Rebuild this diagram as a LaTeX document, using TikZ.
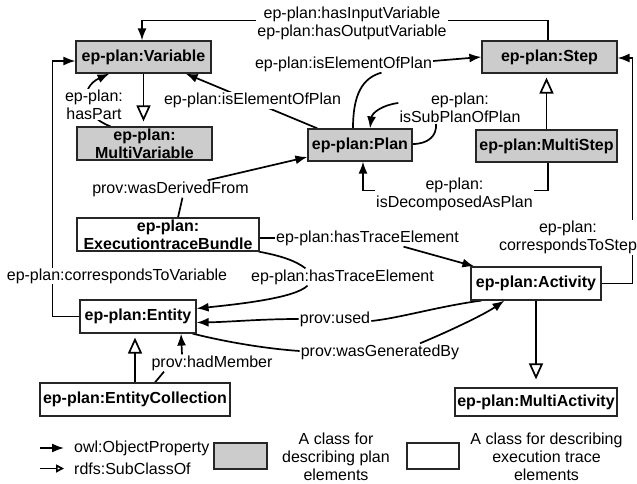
\documentclass[tikz,border=0pt]{standalone}
\usepackage{fontspec}
\setmainfont{Liberation Sans}
\usetikzlibrary{arrows.meta,calc,backgrounds}
\begin{document}
\begin{tikzpicture}[x=1pt,y=-1pt,
  every node/.style={font=\fontsize{16}{17.8}\selectfont},
  cls/.style={draw=black!85,line width=1.2pt,inner sep=0pt,align=center,font=\fontsize{16}{17.8}\selectfont\bfseries},
  plancls/.style={cls,fill=black!20},
  execcls/.style={cls,fill=white},
  lbl/.style={fill=white,inner sep=1pt,align=center},
  arr/.style={line width=1.7pt,-{Latex[length=12pt,width=9pt]}},
  ln/.style={line width=1.7pt},
  sub/.style={line width=1.7pt,-{Triangle[open,length=16pt,width=14pt,fill=white]},shorten >=4pt},
]
\useasboundingbox (0,0) rectangle (637,484);
% classes
\node[plancls,minimum width=135pt,minimum height=32pt] (Variable) at (143.5,57) {ep-plan:Variable};
\node[plancls,minimum width=135pt,minimum height=33pt] (MultiVariable) at (144.5,143.5) {ep-plan:\\MultiVariable};
\node[plancls,minimum width=135pt,minimum height=32pt] (Step) at (549.5,57) {ep-plan:Step};
\node[plancls,minimum width=141pt,minimum height=32pt] (MultiStep) at (546.5,146) {ep-plan:MultiStep};
\node[plancls,minimum width=104pt,minimum height=32pt] (Plan) at (360,145) {ep-plan:Plan};
\node[execcls,minimum width=182pt,minimum height=33pt] (Bundle) at (168,234.5) {ep-plan:\\ExecutiontraceBundle};
\node[execcls,minimum width=116pt,minimum height=33pt] (Entity) at (138,316.5) {ep-plan:Entity};
\node[execcls,minimum width=190pt,minimum height=33pt] (EntColl) at (135,399.5) {ep-plan:EntityCollection};
\node[execcls,minimum width=130pt,minimum height=33pt] (Activity) at (536,283.5) {ep-plan:Activity};
\node[execcls,minimum width=162pt,minimum height=28pt] (MultiAct) at (536,402) {ep-plan:MultiActivity};
% labels
\node[lbl] (lIO) at (352,23) {ep-plan:hasInputVariable\\ep-plan:hasOutputVariable};
\node[lbl] (lEP1) at (343.5,64) {ep-plan:isElementOfPlan};
\node[lbl] (lEP2) at (252.5,100.5) {ep-plan:isElementOfPlan};
\node[lbl] (lSub) at (460,108) {ep-plan:\\isSubPlanOfPlan};
\node[lbl] (lPart) at (94,104.5) {ep-plan:\\hasPart};
\node[lbl] (lDer) at (170.5,189) {prov:wasDerivedFrom};
\node[lbl] (lDec) at (454.5,194) {ep-plan:\\isDecomposedAsPlan};
\node[lbl] (lCS) at (568,237.5) {ep-plan:\\correspondsToStep};
\node[lbl] (lCV) at (117,276) {ep-plan:correspondsToVariable};
\node[lbl] (lTE1) at (367.5,238) {ep-plan:hasTraceElement};
\node[lbl] (lTE2) at (342.5,277) {ep-plan:hasTraceElement};
\node[lbl] (lUsed) at (335,319) {prov:used};
\node[lbl] (lGen) at (380,352) {prov:wasGeneratedBy};
\node[lbl] (lMem) at (212,363) {prov:hadMember};
% legend
\node[anchor=west,inner sep=0pt] (legOP) at (74,448) {owl:ObjectProperty};
\node[anchor=west,inner sep=0pt] (legSC) at (74,468.5) {rdfs:SubClassOf};
\node[plancls,minimum width=53pt,minimum height=26pt] (legPlan) at (240.5,456) {};
\node[execcls,minimum width=52pt,minimum height=26pt] (legExec) at (433,456) {};
\node[align=center,inner sep=0pt] (legPlanT) at (336,457) {A class for\\describing plan\\elements};
\node[align=center,inner sep=0pt] (legExecT) at (546.5,457) {A class for describing\\execution trace\\elements};
% connectors
\begin{scope}[on background layer]
\draw[arr] ($(Step.north)+(-1.5,0)$) |- ($(Variable.north)+(-1.5,-20)$) -- ($(Variable.north)+(-1.5,0)$);
\draw[ln] ($(Plan.north)+(-7,0)$) .. controls (353,95) and (362,78) .. ($(lEP1.south)+(38,0)$);
\draw[arr] ($(lEP1.east)+(0,-3)$) -- (Step.west);
\draw[arr] ($(Plan.north west)+(10,0)$) -- ($(Variable.south east)+(-26,0)$);
\draw[ln] ($(Plan.east)+(0,-1)$) .. controls (428,144) and (437,136) .. ($(lSub.south)+(-24,0)$);
\draw[arr] ($(lSub.west)+(0,-5)$) .. controls (382,105) and (372,113) .. ($(Plan.north)+(10,0)$);
\draw[sub] (MultiStep.north) -- (MultiStep.north |- Step.south);
\draw[sub,shorten >=5pt] (Variable.south) -- (Variable.south |- MultiVariable.north);
\draw[arr] ($(MultiVariable.north)+(-34,0)$) .. controls (80,115) and (80,87) .. ($(Variable.south)+(-34,0)$);
\draw[ln] ($(Bundle.north)+(10,0)$) -- ($(lDer.south)+(12,0)$);
\draw[arr] ($(lDer.north)+(37,0)$) -- ($(Plan.west)+(0,12)$);
\draw[arr] (Entity.west) -| ($(Variable.west)+(-23,4)$) -- ($(Variable.west)+(0,4)$);
\draw[ln] (Bundle.east |- lTE1.west) -- (lTE1.west);
\draw[arr] ($(lTE1.south)+(36,0)$) -- ($(Activity.north west)+(4,0)$);
\draw[ln] ($(Bundle.south east)+(-1,0)$) .. controls (282,256) and (296,261) .. ($(lTE2.north)+(-37,0)$);
\draw[arr] ($(lTE2.south)+(-35,0)$) .. controls (295,298) and (240,304) .. ($(Entity.east)+(0,-8)$);
\draw[ln] ($(Activity.south west)+(11,0)$) .. controls (440,306) and (400,318) .. ($(lUsed.east)+(0,2)$);
\draw[arr] (lUsed.west) .. controls (260,319) and (230,322) .. ($(Entity.east)+(0,6)$);
\draw[ln] ($(Entity.south east)+(-4,0)$) .. controls (230,343) and (270,349) .. ($(lGen.west)+(0,-1)$);
\draw[arr] ($(lGen.north)+(40,0)$) .. controls (452,330) and (485,314) .. ($(Activity.south west)+(34,0)$);
\draw[ln] ($(EntColl.north)+(20,0)$) -- ($(lMem.south)+(-48,0)$);
\draw[arr] ($(lMem.north)+(-30,0)$) -- ($(Entity.south)+(43,0)$);
\draw[sub] (EntColl.north) -- (EntColl.north |- Entity.south);
\draw[sub,shorten >=8pt] (Activity.south) -- (Activity.south |- MultiAct.north);
\draw[arr] (Activity.east) -| ($(Step.east)+(15,1)$) -- ($(Step.east)+(0,1)$);
\draw[arr] ($(MultiStep.south)+(1.5,0)$) |- ($(Plan.south)+(3,29)$) -- ($(Plan.south)+(3,0)$);
\draw[arr] ($(legOP.west)+(-34,0)$) -- ($(legOP.west)+(-10,0)$);
\draw[line width=1.7pt,-{Triangle[open,length=8pt,width=8pt,fill=white]}] ($(legSC.west)+(-34,0)$) -- ($(legSC.west)+(-10,0)$);
\end{scope}
\end{tikzpicture}
\end{document}
